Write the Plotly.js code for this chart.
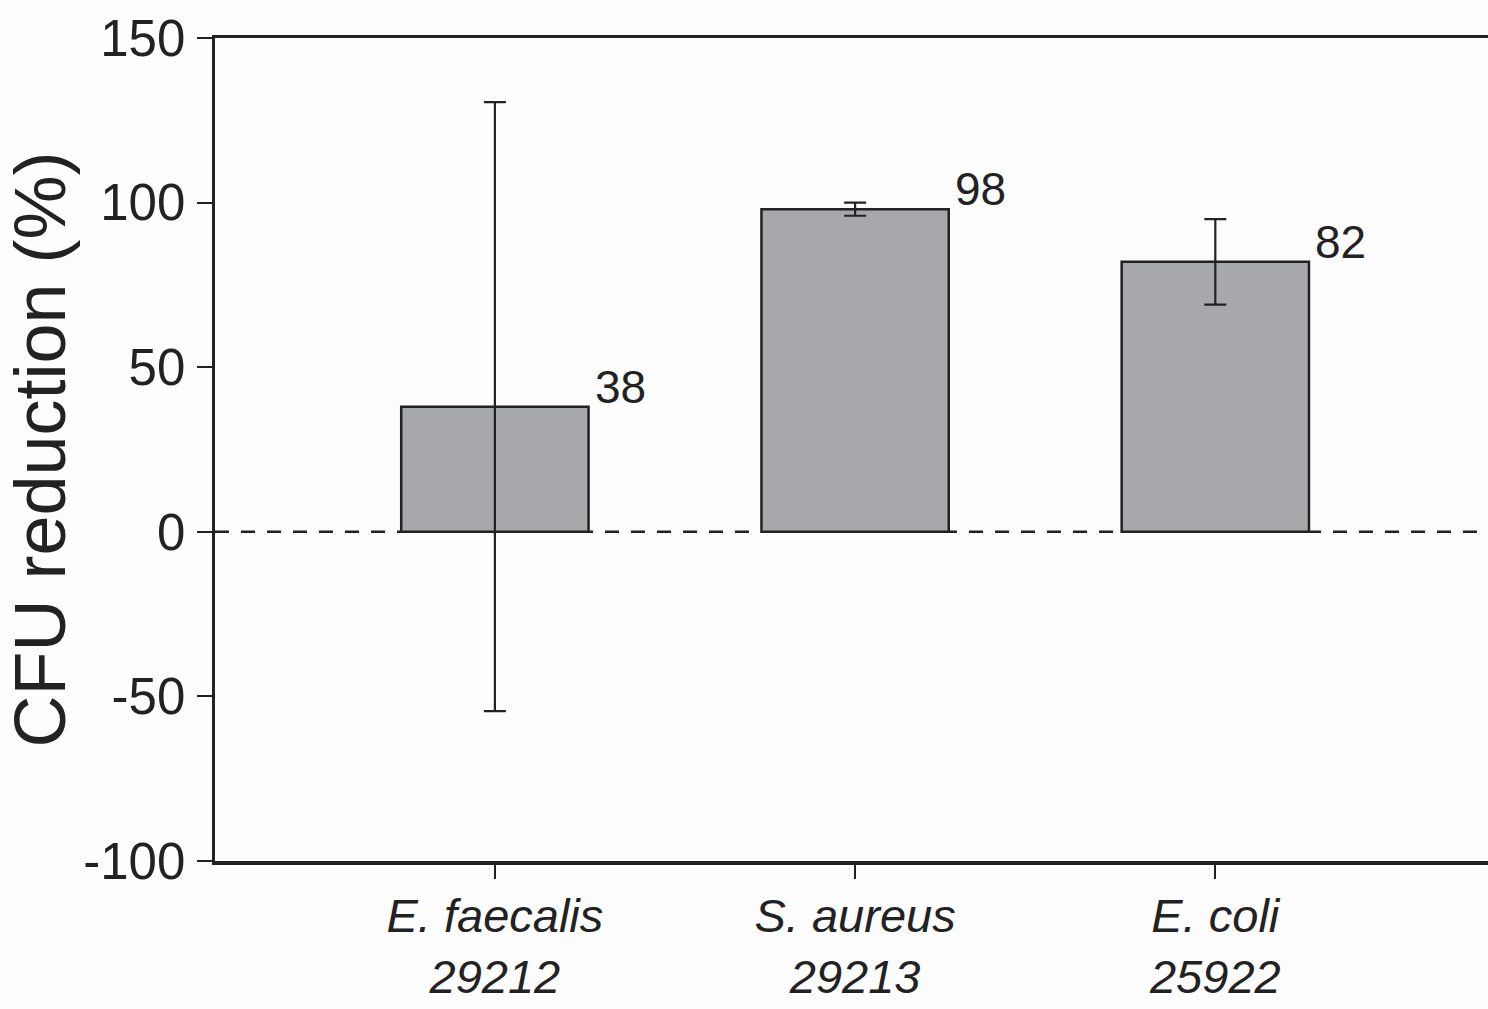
<!DOCTYPE html>
<html>
<head>
<meta charset="utf-8">
<script src="https://cdn.plot.ly/plotly-3.0.1.min.js"></script>
<style>
html,body{margin:0;padding:0;background:#fdfdfd;}
#chart{width:1488px;height:1009px;}
</style>
</head>
<body>
<div id="chart"></div>
<script>
const categories = ["E. faecalis", "S. aureus", "E. coli"];
const strains = ["29212", "29213", "25922"];
const values = [38, 98, 82];
const errors = [92.5, 2, 13];
const valueLabels = ["38", "98", "82"];
const yTickVals = [-100, -50, 0, 50, 100, 150];
const yTickText = ["-100", "-50", "0", "50", "100", "150"];

const xpos = categories.map((c, i) => i);
const tickText = categories.map((c, i) => "<i>" + c + "</i><br><i>" + strains[i] + "</i>");

const dark = "#222222";
const font = "Liberation Sans, Arial, sans-serif";

const trace = {
  type: "bar",
  x: xpos,
  y: values,
  width: 0.52,
  marker: { color: "#a6a8ab", line: { color: dark, width: 2.5 } },
  error_y: { type: "data", array: errors, visible: true, color: dark, thickness: 2.2, width: 11 },
  hoverinfo: "none"
};

const annotations = values.map((v, i) => ({
  x: xpos[i] + 0.26,
  y: v,
  xref: "x", yref: "y",
  text: valueLabels[i],
  showarrow: false,
  xanchor: "left",
  yanchor: "bottom",
  xshift: 4,
  yshift: -8,
  font: { family: font, size: 46, color: dark }
}));

const layout = {
  width: 1488,
  height: 1009,
  margin: { l: 215, r: 0, t: 38, b: 148, pad: 0 },
  paper_bgcolor: "#fdfdfd",
  plot_bgcolor: "#fdfdfd",
  showlegend: false,
  xaxis: {
    range: [-0.777, 2.757],
    tickvals: xpos,
    ticktext: tickText,
    ticks: "outside",
    ticklen: 14,
    tickwidth: 2,
    tickcolor: dark,
    showline: true,
    linecolor: dark,
    linewidth: 3.5,
    mirror: true,
    showgrid: false,
    zeroline: false,
    tickfont: { family: font, size: 47, color: dark },
    ticklabelstandoff: -3
  },
  yaxis: {
    range: [-100, 150],
    tickvals: yTickVals,
    ticktext: yTickText,
    ticks: "outside",
    ticklen: 15,
    tickwidth: 2,
    tickcolor: dark,
    showline: true,
    linecolor: dark,
    linewidth: 3.5,
    showgrid: false,
    zeroline: false,
    tickfont: { family: font, size: 51, color: dark },
    ticklabelstandoff: 1,
    title: { text: "CFU reduction (%)", font: { family: font, size: 72, color: dark }, standoff: 14 }
  },
  shapes: [{
    type: "line", xref: "paper", yref: "y", x0: 0, x1: 1, y0: 0, y1: 0,
    line: { color: dark, width: 2.5, dash: "14px,12px" },
    layer: "below"
  }],
  annotations: annotations
};

Plotly.newPlot("chart", [trace], layout, { displayModeBar: false, staticPlot: true });
</script>
</body>
</html>
